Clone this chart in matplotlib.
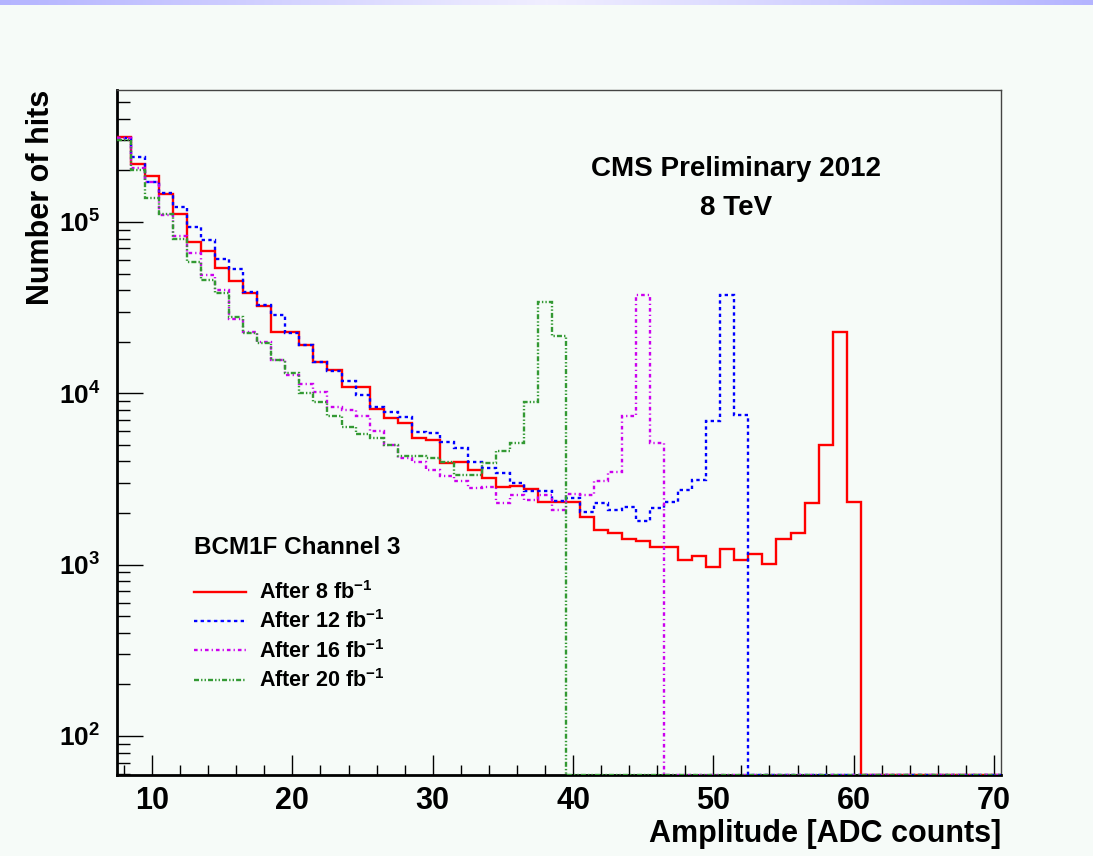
import numpy as np
import matplotlib.pyplot as plt
from matplotlib.ticker import MultipleLocator, LogLocator, FuncFormatter, NullFormatter
from matplotlib.lines import Line2D
from matplotlib.colors import LinearSegmentedColormap

plt.rcParams['font.family'] = ['Liberation Sans', 'DejaVu Sans']
plt.rcParams['font.weight'] = 'bold'
plt.rcParams['axes.labelweight'] = 'bold'
plt.rcParams['mathtext.fontset'] = 'custom'
plt.rcParams['mathtext.rm'] = 'Liberation Sans:bold'
plt.rcParams['mathtext.bf'] = 'Liberation Sans:bold'
plt.rcParams['mathtext.it'] = 'Liberation Sans:bold'
plt.rcParams['mathtext.default'] = 'rm'
plt.rcParams['lines.scale_dashes'] = False

# bins of 1 ADC count, centres 8 ... 70
bin_edges = np.arange(7.5, 71.5, 1.0)

# number of hits per bin, starting at amplitude 8 (missing bins are empty)
after_8fb = [3.15e5, 2.17e5, 1.86e5, 1.45e5, 1.12e5, 7.6e4, 6.8e4, 5.4e4, 4.5e4, 3.87e4,
             3.25e4, 2.29e4, 2.29e4, 1.91e4, 1.53e4, 1.37e4, 1.09e4, 1.09e4, 8.07e3, 7.2e3,
             6.68e3, 5.51e3, 5.34e3, 3.9e3, 3.97e3, 3.57e3, 3.21e3, 2.85e3, 2.89e3, 2.76e3,
             2.31e3, 2.31e3, 2.31e3, 1.9e3, 1.59e3, 1.52e3, 1.42e3, 1.37e3, 1.26e3, 1.27e3,
             1.06e3, 1.13e3, 964, 1.24e3, 1.07e3, 1.16e3, 1.01e3, 1.42e3, 1.53e3, 2.3e3,
             4.97e3, 2.29e4, 2.32e3]
after_12fb = [3.1e5, 2.4e5, 1.72e5, 1.47e5, 1.23e5, 9.4e4, 7.85e4, 6.1e4, 5.3e4, 3.92e4,
              3.27e4, 2.86e4, 2.24e4, 1.91e4, 1.53e4, 1.35e4, 1.18e4, 9.73e3, 8.36e3, 7.81e3,
              7.3e3, 5.97e3, 5.85e3, 5.21e3, 4.81e3, 3.99e3, 3.65e3, 3.41e3, 2.98e3, 2.69e3,
              2.69e3, 2.36e3, 2.46e3, 2.02e3, 2.28e3, 2.08e3, 2.18e3, 1.79e3, 2.15e3, 2.31e3,
              2.72e3, 3.13e3, 6.85e3, 3.75e4, 7.43e3]
after_16fb = [3.1e5, 2.07e5, 1.71e5, 1.1e5, 8.3e4, 6.56e4, 4.9e4, 4.0e4, 2.72e4, 2.29e4,
              2.0e4, 1.56e4, 1.28e4, 1.14e4, 1.02e4, 8.36e3, 8.0e3, 7.37e3, 6.05e3, 4.99e3,
              4.17e3, 3.99e3, 3.57e3, 3.29e3, 3.09e3, 2.8e3, 2.85e3, 2.3e3, 2.55e3, 2.38e3,
              2.55e3, 2.08e3, 2.57e3, 2.55e3, 3.09e3, 3.49e3, 7.4e3, 3.75e4, 5.15e3]
after_20fb = [3.0e5, 2.0e5, 1.38e5, 1.12e5, 8.0e4, 5.8e4, 4.6e4, 3.85e4, 2.8e4, 2.24e4,
              1.97e4, 1.56e4, 1.31e4, 1.0e4, 8.9e3, 7.37e3, 6.4e3, 5.8e3, 5.5e3, 4.99e3,
              4.32e3, 4.32e3, 4.17e3, 3.99e3, 3.33e3, 3.33e3, 3.9e3, 4.6e3, 5.15e3, 8.93e3,
              3.43e4, 2.16e4]

labels = ['After 8 fb$^{-1}$', 'After 12 fb$^{-1}$', 'After 16 fb$^{-1}$', 'After 20 fb$^{-1}$']
colors = ['#ff0000', '#0000ff', '#cc00ee', '#339933']
dashes = [None, (2.4, 2.4), (2.6, 2.2, 0.9, 2.2), (3.6, 1.5, 1.0, 1.5, 1.0, 1.5)]

y_lo, y_hi = 59.2, 5.89e5

def fill_bins(vals):
    # empty bins are drawn on the bottom of the frame, like ROOT does on log scale
    out = np.zeros(len(bin_edges) - 1)
    out[:len(vals)] = vals
    return np.where(out > 0, out, y_lo)

bg = '#f6fbf8'
fig = plt.figure(figsize=(10.93, 8.56), dpi=100, facecolor=bg)

# lavender strip at the top of the slide
strip = fig.add_axes([0, 1 - 5 / 856, 1, 5 / 856])
grad = np.abs(np.linspace(-1, 1, 400))[None, :]
strip.imshow(grad, aspect='auto', extent=[0, 1, 0, 1],
             cmap=LinearSegmentedColormap.from_list('slide', ['#f0eeff', '#b4b4ff']))
strip.axis('off')

ax = fig.add_axes([117 / 1093, 81 / 856, 884 / 1093, 685 / 856])
ax.set_facecolor(bg)

handles = []
for vals, lab, col, ds in zip([after_8fb, after_12fb, after_16fb, after_20fb], labels, colors, dashes):
    st = ax.stairs(fill_bins(vals), bin_edges, baseline=None, color=col, lw=1.7, zorder=3)
    h = Line2D([], [], color=col, lw=1.7)
    if ds is not None:
        st.set_linestyle((0, ds))
        h.set_linestyle((0, ds))
    handles.append(h)

ax.set_yscale('log')
ax.set_xlim(7.5, 70.5)
ax.set_ylim(y_lo, y_hi)

ax.xaxis.set_major_locator(MultipleLocator(10))
ax.xaxis.set_minor_locator(MultipleLocator(2))
ax.yaxis.set_major_locator(LogLocator(base=10))
ax.yaxis.set_minor_locator(LogLocator(base=10, subs=np.arange(2, 10)))
ax.yaxis.set_major_formatter(FuncFormatter(lambda v, p: r'$10^{%d}$' % round(np.log10(v))))
ax.yaxis.set_minor_formatter(NullFormatter())

ax.tick_params(axis='x', which='major', direction='in', length=14.5, width=1.0, labelsize=22, pad=8)
ax.tick_params(axis='x', which='minor', direction='in', length=7.5, width=1.0)
ax.tick_params(axis='y', which='major', direction='in', length=19, width=1.0, labelsize=19, pad=12)
ax.tick_params(axis='y', which='minor', direction='in', length=9.5, width=1.0)

for side in ['left', 'bottom']:
    ax.spines[side].set_linewidth(2.0)
for side in ['top', 'right']:
    ax.spines[side].set_linewidth(1.0)
    ax.spines[side].set_color('#444444')

ax.set_xlabel('Amplitude [ADC counts]', fontsize=22, loc='right', labelpad=2)
ax.set_ylabel('Number of hits', fontsize=22, loc='top', labelpad=2)

ax.text(0.70, 0.875, 'CMS Preliminary 2012', transform=ax.transAxes, fontsize=20, ha='center')
ax.text(0.70, 0.818, '8 TeV', transform=ax.transAxes, fontsize=20, ha='center')

leg = ax.legend(handles=handles, labels=labels, loc='upper left', frameon=False,
                bbox_to_anchor=(194 / 1093, 1 - 536 / 856), bbox_transform=fig.transFigure,
                title='BCM1F Channel 3', title_fontproperties={'size': 17.5, 'weight': 'bold'},
                alignment='left', fontsize=15.5, handlelength=2.4, handletextpad=0.6,
                labelspacing=0.3, borderpad=0.0, borderaxespad=0.0)
leg._legend_box.sep = 16

fig.savefig('out.png', dpi=100, facecolor=bg)
